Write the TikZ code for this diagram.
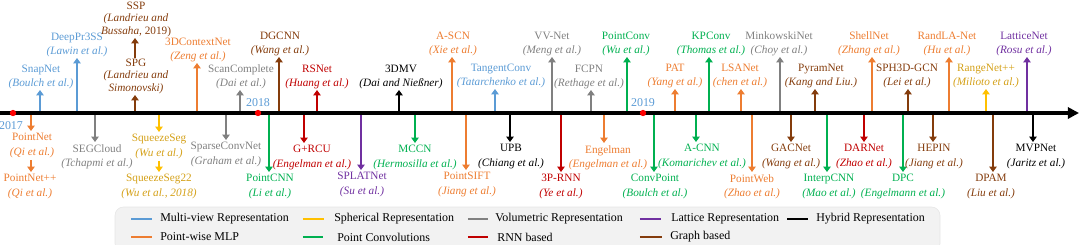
\documentclass[tikz,border=0pt]{standalone}
\usepackage{fontspec}
\setmainfont{Liberation Serif}
\usepackage{xcolor}
\usepackage{tikz}
\usetikzlibrary{positioning, arrows.meta}

\definecolor{cmview}{HTML}{5B9BD5}
\definecolor{cmlp}{HTML}{ED7D31}
\definecolor{csph}{HTML}{FFC000}
\definecolor{csphtxt}{HTML}{D4A017}
\definecolor{cvol}{HTML}{808080}
\definecolor{cconv}{HTML}{00B050}
\definecolor{crnn}{HTML}{C00000}
\definecolor{clat}{HTML}{7030A0}
\definecolor{chyb}{HTML}{000000}
\definecolor{cgraph}{HTML}{843C0C}
\definecolor{clegbg}{HTML}{F2F2F2}

\begin{document}
\begin{tikzpicture}[
    x=0.025cm, y=-0.025cm,
    upl/.style={anchor=south, align=center, inner sep=0.5pt, font=\fontsize{8}{10.2}\selectfont},
    dnl/.style={anchor=north, align=center, inner sep=1.5pt, font=\fontsize{8}{10.2}\selectfont},
    tight/.style={font=\fontsize{8}{9}\selectfont},
    arr/.style={-{Triangle[length=3.8pt, width=5.2pt]}, line width=1.6pt},
    timeline/.style={-{Triangle[length=8pt, width=8pt]}, line width=2.2pt, draw=black},
    yeardot/.style={circle, fill=red, inner sep=0pt, minimum size=4.5pt},
    yearlbl/.style={text=cmview, inner sep=0.5pt, font=\fontsize{8.5}{10}\selectfont},
    legbox/.style={fill=clegbg, draw=gray!20, rounded corners=6pt},
    legline/.style={line width=2pt},
    legtxt/.style={anchor=west, inner sep=0pt, font=\fontsize{8.5}{10}\selectfont},
    mview/.style={color=cmview},
    mlp/.style={color=cmlp},
    sph/.style={color=csph, text=csphtxt},
    vol/.style={color=cvol},
    conv/.style={color=cconv},
    rnn/.style={color=crnn},
    lat/.style={color=clat},
    hyb/.style={color=chyb},
    graph/.style={color=cgraph}
]
\useasboundingbox (0,0) rectangle (1080,244);

% Legend
\draw[legbox] (115,252) rectangle (940,207);
\node[legtxt] (lg-mview) at (160,219) {Multi-view Representation};
\node[legtxt] (lg-sph) at (334,219) {Spherical Representation};
\node[legtxt] (lg-vol) at (495,219) {Volumetric Representation};
\node[legtxt] (lg-lat) at (671,219) {Lattice Representation};
\node[legtxt] (lg-hyb) at (816,219) {Hybrid Representation};
\node[legtxt] (lg-mlp) at (160,237) {Point-wise MLP};
\node[legtxt] (lg-conv) at (337,237) {Point Convolutions};
\node[legtxt] (lg-rnn) at (497,237) {RNN based};
\node[legtxt] (lg-graph) at (670,237) {Graph based};
\draw[legline, mview] ([xshift=-0.72cm]lg-mview.west) -- ([xshift=-0.2cm]lg-mview.west);
\draw[legline, sph] ([xshift=-0.78cm]lg-sph.west) -- ([xshift=-0.26cm]lg-sph.west);
\draw[legline, vol] ([xshift=-0.68cm]lg-vol.west) -- ([xshift=-0.18cm]lg-vol.west);
\draw[legline, lat] ([xshift=-0.78cm]lg-lat.west) -- ([xshift=-0.24cm]lg-lat.west);
\draw[legline, hyb] ([xshift=-0.72cm]lg-hyb.west) -- ([xshift=-0.2cm]lg-hyb.west);
\draw[legline, mlp] ([xshift=-0.72cm]lg-mlp.west) -- ([xshift=-0.2cm]lg-mlp.west);
\draw[legline, conv] ([xshift=-0.85cm]lg-conv.west) -- ([xshift=-0.34cm]lg-conv.west);
\draw[legline, rnn] ([xshift=-0.73cm]lg-rnn.west) -- ([xshift=-0.22cm]lg-rnn.west);
\draw[legline, graph] ([xshift=-0.75cm]lg-graph.west) -- ([xshift=-0.2cm]lg-graph.west);

% Methods above the axis
\coordinate (snapnet-t) at (40,113);
\node[upl, mview] (snapnet) at (41,90) {SnapNet\\\textit{(Boulch et al.)}};
\draw[arr, mview] (snapnet-t) -- (snapnet-t |- snapnet.south);

\coordinate (deeppr-t) at (77,113);
\node[upl, mview] (deeppr) at (77,58) {DeepPr3SS\\\textit{(Lawin et al.)}};
\draw[arr, mview] (deeppr-t) -- (deeppr-t |- deeppr.south);

\coordinate (spg-t) at (135,113);
\node[upl, tight, graph] (spg) at (136,95) {SPG\\\textit{(Landrieu and}\\\textit{Simonovski)}};
\draw[arr, graph] (spg-t) -- (spg-t |- spg.south);
\node[upl, tight, graph] (ssp) at (136,38) {SSP\\\textit{(Landrieu and}\\\textit{Bussaha,} 2019)};
\draw[arr, graph] (spg-t |- spg.north) -- (spg-t |- ssp.south);

\coordinate (contextnet-t) at (197,113);
\node[upl, mlp] (contextnet) at (198,63) {3DContextNet\\\textit{(Zeng et al.)}};
\draw[arr, mlp] (contextnet-t) -- (contextnet-t |- contextnet.south);

\coordinate (scancomp-t) at (240,113);
\node[upl, vol] (scancomp) at (241,90) {ScanComplete\\\textit{(Dai et al.)}};
\draw[arr, vol] (scancomp-t) -- (scancomp-t |- scancomp.south);

\coordinate (dgcnn-t) at (279,113);
\node[upl, graph] (dgcnn) at (280,57) {DGCNN\\\textit{(Wang et al.)}};
\draw[arr, graph] (dgcnn-t) -- (dgcnn-t |- dgcnn.south);

\coordinate (rsnet-t) at (317,113);
\node[upl, rnn] (rsnet) at (317,90) {RSNet\\\textit{(Huang et al.)}};
\draw[arr, rnn] (rsnet-t) -- (rsnet-t |- rsnet.south);

\coordinate (dmv-t) at (399,113);
\node[upl, hyb] (dmv) at (401,90) {3DMV\\\textit{(Dai and Nießner)}};
\draw[arr, hyb] (dmv-t) -- (dmv-t |- dmv.south);

\coordinate (ascn-t) at (452,113);
\node[upl, mlp] (ascn) at (453,57) {A-SCN\\\textit{(Xie et al.)}};
\draw[arr, mlp] (ascn-t) -- (ascn-t |- ascn.south);

\coordinate (tangconv-t) at (495,113);
\node[upl, mview] (tangconv) at (501,89) {TangentConv\\\textit{(Tatarchenko et al.)}};
\draw[arr, mview] (tangconv-t) -- (tangconv-t |- tangconv.south);

\coordinate (vvnet-t) at (552,113);
\node[upl, vol] (vvnet) at (552,57) {VV-Net\\\textit{(Meng et al.)}};
\draw[arr, vol] (vvnet-t) -- (vvnet-t |- vvnet.south);

\coordinate (fcpn-t) at (591,113);
\node[upl, vol] (fcpn) at (589,90) {FCPN\\\textit{(Rethage et al.)}};
\draw[arr, vol] (fcpn-t) -- (fcpn-t |- fcpn.south);

\coordinate (pointconv-t) at (627,113);
\node[upl, conv] (pointconv) at (626,57) {PointConv\\\textit{(Wu et al.)}};
\draw[arr, conv] (pointconv-t) -- (pointconv-t |- pointconv.south);

\coordinate (pat-t) at (675,113);
\node[upl, mlp] (pat) at (675,89) {PAT\\\textit{(Yang et al.)}};
\draw[arr, mlp] (pat-t) -- (pat-t |- pat.south);

\coordinate (kpconv-t) at (709,113);
\node[upl, conv] (kpconv) at (711,57) {KPConv\\\textit{(Thomas et al.)}};
\draw[arr, conv] (kpconv-t) -- (kpconv-t |- kpconv.south);

\coordinate (lsanet-t) at (741,113);
\node[upl, mlp] (lsanet) at (740,89) {LSANet\\\textit{(chen et al.)}};
\draw[arr, mlp] (lsanet-t) -- (lsanet-t |- lsanet.south);

\coordinate (minkowski-t) at (780,113);
\node[upl, vol] (minkowski) at (779,57) {MinkowskiNet\\\textit{(Choy et al.)}};
\draw[arr, vol] (minkowski-t) -- (minkowski-t |- minkowski.south);

\coordinate (pyramnet-t) at (815,113);
\node[upl, graph] (pyramnet) at (821,89) {PyramNet\\\textit{(Kang and Liu.)}};
\draw[arr, graph] (pyramnet-t) -- (pyramnet-t |- pyramnet.south);

\coordinate (shellnet-t) at (872,113);
\node[upl, mlp] (shellnet) at (869,57) {ShellNet\\\textit{(Zhang et al.)}};
\draw[arr, mlp] (shellnet-t) -- (shellnet-t |- shellnet.south);

\coordinate (sph3d-t) at (908,113);
\node[upl, graph] (sph3d) at (907,89) {SPH3D-GCN\\\textit{(Lei et al.)}};
\draw[arr, graph] (sph3d-t) -- (sph3d-t |- sph3d.south);

\coordinate (randla-t) at (949,113);
\node[upl, mlp] (randla) at (947,57) {RandLA-Net\\\textit{(Hu et al.)}};
\draw[arr, mlp] (randla-t) -- (randla-t |- randla.south);

\coordinate (rangenet-t) at (986,113);
\node[upl, sph] (rangenet) at (986,89) {RangeNet++\\\textit{(Milioto et al.)}};
\draw[arr, sph] (rangenet-t) -- (rangenet-t |- rangenet.south);

\coordinate (lattice-t) at (1027,113);
\node[upl, lat] (lattice) at (1024,57) {LatticeNet\\\textit{(Rosu et al.)}};
\draw[arr, lat] (lattice-t) -- (lattice-t |- lattice.south);

% Methods below the axis
\coordinate (pointnet-t) at (31,113);
\node[dnl, mlp] (pointnet) at (32,131) {PointNet\\\textit{(Qi et al.)}};
\draw[arr, mlp] (pointnet-t) -- (pointnet-t |- pointnet.north);
\node[dnl, mlp] (pointnetpp) at (30,172) {PointNet++\\\textit{(Qi et al.)}};
\draw[arr, mlp] (pointnet-t |- pointnet.south) -- (pointnet-t |- pointnetpp.north);

\coordinate (segcloud-t) at (95,113);
\node[dnl, vol] (segcloud) at (97,142) {SEGCloud\\\textit{(Tchapmi et al.)}};
\draw[arr, vol] (segcloud-t) -- (segcloud-t |- segcloud.north);

\coordinate (squeeze-t) at (159,113);
\node[dnl, sph] (squeeze) at (159,132) {SqueezeSeg\\\textit{(Wu et al.)}};
\draw[arr, sph] (squeeze-t) -- (squeeze-t |- squeeze.north);
\node[dnl, sph] (squeezetwo) at (159,172) {SqueezeSeg22\\\textit{(Wu et al., 2018)}};
\draw[arr, sph] (squeeze-t |- squeeze.south) -- (squeeze-t |- squeezetwo.north);

\coordinate (sparseconv-t) at (226,113);
\node[dnl, vol] (sparseconv) at (226,140) {SparseConvNet\\\textit{(Graham et al.)}};
\draw[arr, vol] (sparseconv-t) -- (sparseconv-t |- sparseconv.north);

\coordinate (pointcnn-t) at (269,113);
\node[dnl, conv] (pointcnn) at (270,172) {PointCNN\\\textit{(Li et al.)}};
\draw[arr, conv] (pointcnn-t) -- (pointcnn-t |- pointcnn.north);

\coordinate (grcu-t) at (304,113);
\node[dnl, rnn] (grcu) at (312,143) {G+RCU\\\textit{(Engelman et al.)}};
\draw[arr, rnn] (grcu-t) -- (grcu-t |- grcu.north);

\coordinate (splat-t) at (361,113);
\node[dnl, lat] (splat) at (362,170) {SPLATNet\\\textit{(Su et al.)}};
\draw[arr, lat] (splat-t) -- (splat-t |- splat.north);

\coordinate (mccn-t) at (415,113);
\node[dnl, conv] (mccn) at (415,143) {MCCN\\\textit{(Hermosilla et al.)}};
\draw[arr, conv] (mccn-t) -- (mccn-t |- mccn.north);

\coordinate (pointsift-t) at (466,113);
\node[dnl, mlp] (pointsift) at (467,170) {PointSIFT\\\textit{(Jiang et al.)}};
\draw[arr, mlp] (pointsift-t) -- (pointsift-t |- pointsift.north);

\coordinate (upb-t) at (510,113);
\node[dnl, hyb] (upb) at (511,142) {UPB\\\textit{(Chiang et al.)}};
\draw[arr, hyb] (upb-t) -- (upb-t |- upb.north);

\coordinate (prnn-t) at (561,113);
\node[dnl, rnn] (prnn) at (561,172) {3P-RNN\\\textit{(Ye et al.)}};
\draw[arr, rnn] (prnn-t) -- (prnn-t |- prnn.north);

\coordinate (engelman-t) at (604,113);
\node[dnl, mlp] (engelman) at (608,143) {Engelman\\\textit{(Engelman et al.)}};
\draw[arr, mlp] (engelman-t) -- (engelman-t |- engelman.north);

\coordinate (convpoint-t) at (654,113);
\node[dnl, conv] (convpoint) at (655,172) {ConvPoint\\\textit{(Boulch et al.)}};
\draw[arr, conv] (convpoint-t) -- (convpoint-t |- convpoint.north);

\coordinate (acnn-t) at (696,113);
\node[dnl, conv] (acnn) at (702,142) {A-CNN\\\textit{(Komarichev et al.)}};
\draw[arr, conv] (acnn-t) -- (acnn-t |- acnn.north);

\coordinate (pointweb-t) at (752,113);
\node[dnl, mlp] (pointweb) at (752,172) {PointWeb\\\textit{(Zhao et al.)}};
\draw[arr, mlp] (pointweb-t) -- (pointweb-t |- pointweb.north);

\coordinate (gacnet-t) at (791,113);
\node[dnl, graph] (gacnet) at (791,142) {GACNet\\\textit{(Wang et al.)}};
\draw[arr, graph] (gacnet-t) -- (gacnet-t |- gacnet.north);

\coordinate (interp-t) at (827,113);
\node[dnl, conv] (interp) at (829,172) {InterpCNN\\\textit{(Mao et al.)}};
\draw[arr, conv] (interp-t) -- (interp-t |- interp.north);

\coordinate (darnet-t) at (864,113);
\node[dnl, rnn] (darnet) at (864,142) {DARNet\\\textit{(Zhao et al.)}};
\draw[arr, rnn] (darnet-t) -- (darnet-t |- darnet.north);

\coordinate (dpc-t) at (903,113);
\node[dnl, conv] (dpc) at (903,172) {DPC\\\textit{(Engelmann et al.)}};
\draw[arr, conv] (dpc-t) -- (dpc-t |- dpc.north);

\coordinate (hepin-t) at (933,113);
\node[dnl, graph] (hepin) at (934,142) {HEPIN\\\textit{(Jiang et al.)}};
\draw[arr, graph] (hepin-t) -- (hepin-t |- hepin.north);

\coordinate (dpam-t) at (993,113);
\node[dnl, graph] (dpam) at (991,172) {DPAM\\\textit{(Liu et al.)}};
\draw[arr, graph] (dpam-t) -- (dpam-t |- dpam.north);

\coordinate (mvpnet-t) at (1033,113);
\node[dnl, hyb] (mvpnet) at (1036,142) {MVPNet\\\textit{(Jaritz et al.)}};
\draw[arr, hyb] (mvpnet-t) -- (mvpnet-t |- mvpnet.north);

% Time axis
\coordinate (ax-start) at (0,113);
\coordinate (ax-end) at (1079,113);
\draw[timeline] (ax-start) -- (ax-end);

% Years
\node[yeardot] (y2017) at (13,113) {};
\node[yeardot] (y2018) at (258,113) {};
\node[yeardot] (y2019) at (643,113) {};
\node[yearlbl, below=0.1cm of y2017, xshift=-0.05cm] (l2017) {2017};
\node[yearlbl, above=0.04cm of y2018] (l2018) {2018};
\node[yearlbl, above=0.04cm of y2019] (l2019) {2019};

\end{tikzpicture}
\end{document}
